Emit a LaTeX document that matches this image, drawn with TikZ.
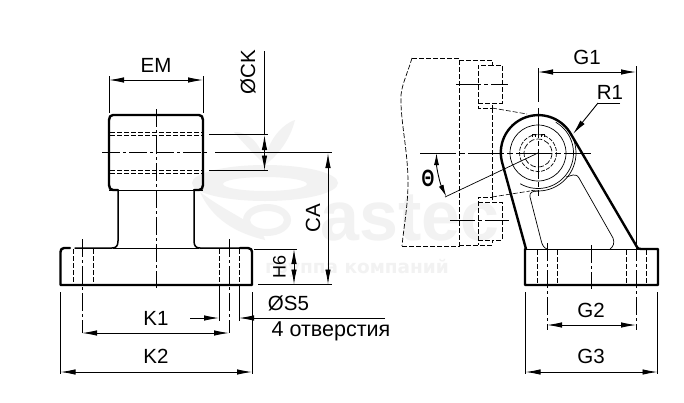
\documentclass[tikz,border=0pt]{standalone}
\usepackage{fontspec}
\setmainfont{Liberation Sans}
\newfontfamily\wmfont{DejaVu Sans}
\usetikzlibrary{arrows.meta}
\definecolor{wm}{HTML}{F2F2F2}
\tikzset{
  thick line/.style={line width=2.4pt,line cap=round,line join=round},
  medium line/.style={line width=1.5pt,line cap=round,line join=round},
  thin line/.style={line width=0.9pt},
  hair/.style={line width=0.7pt},
  hidden/.style={line width=0.8pt,dash pattern=on 5pt off 2pt},
  center line/.style={line width=0.8pt,dash pattern=on 18pt off 3pt on 3pt off 3pt},
  dim/.style={line width=0.9pt,{Latex[length=15pt,width=5.5pt]}-{Latex[length=15pt,width=5.5pt]}},
  dimend/.style={line width=0.9pt,-{Latex[length=15pt,width=5.5pt]}},
  label/.style={font=\fontsize{20.5}{20.5}\selectfont,inner sep=0pt},
}
\begin{document}
\begin{tikzpicture}[x=1pt,y=1pt,yscale=-1]
\useasboundingbox[fill=white] (0,0) rectangle (684,402);
% watermark
\fill[wm,even odd rule] (265,183) ellipse [x radius=73,y radius=18] (265,184) ellipse [x radius=42,y radius=7];
\fill[wm,even odd rule] (267,220) ellipse [x radius=24,y radius=16] (267,220) ellipse [x radius=17,y radius=9];
\fill[wm] (234,132) .. controls (250,132) and (262,145) .. (265,165) .. controls (255,155) and (245,145) .. (234,132);
\fill[wm] (295,120) .. controls (280,125) and (265,145) .. (265,165) .. controls (278,155) and (290,140) .. (295,120);
\fill[wm] (200,192) .. controls (215,225) and (245,235) .. (265,240) .. controls (262,225) and (230,215) .. (200,192);
\node[anchor=base,inner sep=0pt,text=wm,text height=30pt,text depth=0pt,font=\fontsize{70}{70}\selectfont\bfseries] (wmname) at (410,240) {astec};
\node[anchor=base,inner sep=0pt,text=wm,font=\wmfont\fontsize{18.5}{19}\selectfont\bfseries] (wmsub) at (357,273) {группа компаний};
% ---- left view
\draw[thin line] (109,190) -- (203,190);
\draw[medium line] (118,190) -- (118,241) .. controls (118,246) and (116,248) .. (112,248) -- (75,248);
\draw[medium line] (194,190) -- (194,241) .. controls (194,246) and (196,248) .. (200,248) -- (240,248);
\draw[thin line] (113,248) -- (199,248);
\draw[thick line] (118,190) -- (113,190) .. controls (110.5,190) and (109,188) .. (109,185) -- (109,120) .. controls (109,117) and (110.5,115) .. (113,115) -- (199,115) .. controls (201.5,115) and (203,117) .. (203,120) -- (203,185) .. controls (203,188) and (201.5,190) .. (199,190) -- (194,190);
\draw[thick line] (70,248) -- (64,248) .. controls (61.5,248) and (60.5,250) .. (60.5,252) -- (60.5,285) -- (252,285) -- (252,252) .. controls (252,250) and (251,248) .. (248,248) -- (240,248);
\foreach \y in {132,135,170,173}{\draw[hidden] (110,\y) -- (202,\y);}
\foreach \x in {73,93,219,239}{\draw[hidden] (\x,249) -- (\x,284);}
\draw[center line] (156,109) -- (156,288);
\draw[center line] (102,152.5) -- (208,152.5);
\draw[hair] (215,152.5) -- (332,152.5);
\draw[center line] (82,239) -- (82,333);
\draw[center line] (229,239) -- (229,333);
% left dims
\draw[thin line] (109,76) -- (109,113) (203,76) -- (203,113);
\draw[dim] (109,80) -- (203,80);
\node[label] (em) at (156,65) {EM};
\draw[hair] (209,134.5) -- (268,134.5) (209,170.5) -- (268,170.5);
\draw[line width=0.9pt] (264.5,51) -- (264.5,135);
\draw[dim] (264.5,135) -- (264.5,170.5);
\node[label,rotate=90] (ck) at (248,72.5) {ØCK};
\draw[hair] (258,284.5) -- (332,284.5) (254,249) -- (297,249);
\draw[dim] (328,153) -- (328,284.5);
\node[label,rotate=90] (ca) at (313,218) {CA};
\draw[dim] (294,249) -- (294,284.5);
\node[label,font=\fontsize{18}{18}\selectfont,rotate=90] (h6) at (279.5,267) {H6};
\draw[dim] (82,333) -- (229,333);
\node[label] (k1) at (156,318.5) {K1};
\draw[thin line] (60.5,292) -- (60.5,374) (252,292) -- (252,374);
\draw[dim] (60.5,372) -- (252,372);
\node[label] (k2) at (156,356.5) {K2};
\draw[thin line] (219,285) -- (219,321) (239,285) -- (239,321);
\draw[dimend] (190,318) -- (219,318);
\draw[dimend] (385,318) -- (239,318);
\node[label] (s5) at (288.5,303.5) {ØS5};
\node[label,font=\fontsize{21.5}{21.5}\selectfont] (holes) at (331,331) {4 отверстия};
% ---- right view: dashed mounting plate
\draw[line width=0.7pt,dash pattern=on 5pt off 2pt] (412,58) .. controls (408,72) and (402,84) .. (401,95) .. controls (400,120) and (408,150) .. (408,183) .. controls (408,205) and (404,225) .. (402,246);
\draw[hidden] (412,58) -- (459,58) -- (459,246) -- (402,246);
\draw[hidden] (459,60) -- (492,60) -- (492,65) -- (502,65) -- (502,103) -- (492,103) -- (492,108) -- (478,108) -- (478,65) -- (492,65);
\draw[hidden] (478,103) -- (492,103);
\draw[hidden] (459,245) -- (492,245) -- (492,240) -- (502,240) -- (502,202) -- (492,202) -- (492,197) -- (478,197) -- (478,245);
\draw[hidden] (478,202) -- (492,202) (478,240) -- (492,240);
\draw[hidden] (492,108) -- (492,197);
\draw[line width=0.6pt,dash pattern=on 5pt off 2pt] (492,108) -- (527,114);
\draw[line width=0.6pt,dash pattern=on 5pt off 2pt] (492,197) -- (530,191);
\draw[line width=0.8pt,dash pattern=on 25pt off 3pt on 4pt off 3pt] (456,84) -- (508,84) (450,220) -- (509,220);
% lug
\draw[hair] (538,153) ++(300:35.5) arc [start angle=300,end angle=480,radius=35.5];
\draw[hair] (538,153) ++(325:38) arc [start angle=325,end angle=460,radius=38];
\draw[line width=0.7pt] (538,153) circle [radius=28];
\draw[line width=0.7pt,dash pattern=on 4pt off 1.5pt] (538,153) circle [radius=18.5];
\draw[line width=0.7pt,dash pattern=on 6pt off 2pt] (538,153) circle [radius=14];
\draw[line width=0.6pt] (532,137) -- (532,134) -- (535,134) -- (535,137) (541,137) -- (541,134) -- (544,134) -- (544,137) (538,131) -- (538,138);
\draw[thick line] (526,249) -- (502,162) arc [start angle=165.5,end angle=330.3,radius=37.5] -- (637,247) .. controls (638,248.5) and (639,249) .. (641,249) -- (658,249) -- (658,285) -- (525,285) -- (525,249);
\draw[thin line] (525,249) -- (640,249);
\draw[hair] (538,191) .. controls (533,191) and (529,192) .. (530,197) -- (541,240) .. controls (542,245) and (544,248) .. (547,249);
\draw[hair] (566,177) -- (573,175) .. controls (576,175) and (577,175) .. (579,178) -- (613,238) .. controls (615,243) and (613,247) .. (610,249);
\foreach \x in {537,557,626,646}{\draw[hidden] (\x,250) -- (\x,284);}
\draw[center line] (591,245) -- (591,289);
\draw[center line] (547,243) -- (547,330);
\draw[center line] (636,243) -- (636,330);
\draw[line width=0.8pt,dash pattern=on 36pt off 3pt on 6pt off 3pt] (420,153) -- (591,153);
\draw[line width=0.8pt,dash pattern=on 30pt off 3pt on 5pt off 3pt] (538,108) -- (538,196);
\draw[hair] (538,153) -- (445,197);
\draw[line width=0.9pt,{Latex[length=12pt,width=5pt]}-{Latex[length=12pt,width=5pt]}] (436.5,153) arc [start angle=180,end angle=154.7,radius=102];
\node[label,font=\fontsize{21}{21}\selectfont\bfseries] (phi) at (428,178) {\scalebox{0.78}[1.12]{Θ}};
% right dims
\draw[thin line] (538,68) -- (538,102) (636,66) -- (636,249);
\draw[dim] (538,72) -- (636,72);
\node[label] (g1) at (587,57) {G1};
\draw[thin line] (620,103) -- (598,103);
\draw[dimend] (598,103) -- (573,134);
\node[label] (r1) at (610,92) {R1};
\draw[dim] (547,325) -- (636,325);
\node[label] (g2) at (591,310) {G2};
\draw[thin line] (525.5,292) -- (525.5,374) (657.5,292) -- (657.5,374);
\draw[dim] (525.5,372) -- (657.5,372);
\node[label] (g3) at (591,356) {G3};
\end{tikzpicture}
\end{document}
